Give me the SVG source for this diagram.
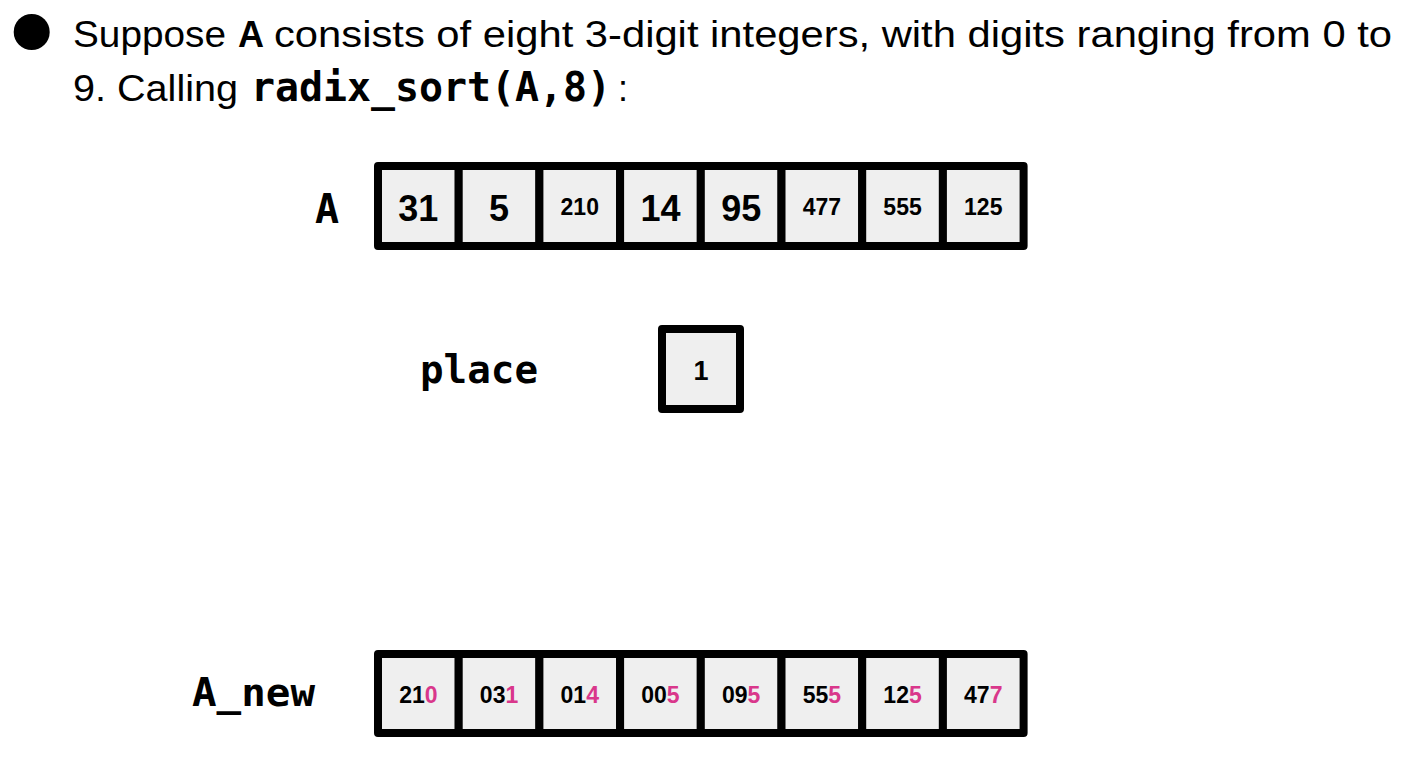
<svg xmlns="http://www.w3.org/2000/svg" width="1426" height="760" viewBox="0 0 1426 760">
<style>
.cell{fill:#efefef;stroke:#000;stroke-width:8;stroke-linejoin:round}
.big{font-family:"Liberation Sans",Arial,sans-serif;font-weight:bold;font-size:36px;text-anchor:middle;fill:#000}
.small{font-family:"Liberation Sans",Arial,sans-serif;font-weight:bold;font-size:23px;text-anchor:middle;fill:#000}
.one{font-family:"Liberation Sans",Arial,sans-serif;font-weight:bold;font-size:27px;text-anchor:middle;fill:#000}
.hl{fill:#d9378b}
.body{font-family:"Liberation Sans",Arial,sans-serif;font-size:36px;fill:#000}
.bodyb{font-family:"Liberation Sans",Arial,sans-serif;font-size:36px;font-weight:bold;fill:#000}
.mono{font-family:"DejaVu Sans Mono","Liberation Mono",monospace;font-weight:bold;fill:#000}
</style>
<rect width="1426" height="760" fill="#fff"/>
<g id="title">
<circle cx="31.7" cy="32" r="18" fill="#000"/>
<text class="body" x="73" y="47" textLength="153" lengthAdjust="spacingAndGlyphs">Suppose</text>
<text class="bodyb" x="238" y="47">A</text>
<text class="body" x="274" y="47" textLength="1118" lengthAdjust="spacingAndGlyphs">consists of eight 3-digit integers, with digits ranging from 0 to</text>
<text class="body" x="73" y="101" textLength="165" lengthAdjust="spacingAndGlyphs">9. Calling</text>
<text class="mono" x="251" y="101" font-size="40" textLength="360" lengthAdjust="spacingAndGlyphs">radix_sort(A,8)</text>
<text class="body" x="618" y="101">:</text>
</g>
<g id="label-A"><text class="mono" x="315" y="223" font-size="40">A</text></g>
<g id="array-A">
<g id="A0"><rect class="cell" x="378" y="166" width="80.7" height="80"/><text class="big" x="418.35" y="221">31</text></g>
<g id="A1"><rect class="cell" x="458.7" y="166" width="80.7" height="80"/><text class="big" x="499.05" y="221">5</text></g>
<g id="A2"><rect class="cell" x="539.4" y="166" width="80.7" height="80"/><text class="small" x="579.75" y="215">210</text></g>
<g id="A3"><rect class="cell" x="620.1" y="166" width="80.7" height="80"/><text class="big" x="660.45" y="221">14</text></g>
<g id="A4"><rect class="cell" x="700.8" y="166" width="80.7" height="80"/><text class="big" x="741.15" y="221">95</text></g>
<g id="A5"><rect class="cell" x="781.5" y="166" width="80.7" height="80"/><text class="small" x="821.85" y="215">477</text></g>
<g id="A6"><rect class="cell" x="862.2" y="166" width="80.7" height="80"/><text class="small" x="902.55" y="215">555</text></g>
<g id="A7"><rect class="cell" x="942.9" y="166" width="80.7" height="80"/><text class="small" x="983.25" y="215">125</text></g>
</g>
<g id="label-place"><text class="mono" x="420" y="383" font-size="39" textLength="118" lengthAdjust="spacingAndGlyphs">place</text></g>
<g id="place">
<rect class="cell" x="662" y="329" width="78" height="80"/>
<text class="one" x="701" y="380">1</text>
</g>
<g id="label-A_new"><text class="mono" x="192" y="706" font-size="39" textLength="123" lengthAdjust="spacingAndGlyphs">A_new</text></g>
<g id="array-A_new">
<g id="N0"><rect class="cell" x="378" y="654" width="80.7" height="79"/><text class="small" x="418.35" y="703">21<tspan class="hl">0</tspan></text></g>
<g id="N1"><rect class="cell" x="458.7" y="654" width="80.7" height="79"/><text class="small" x="499.05" y="703">03<tspan class="hl">1</tspan></text></g>
<g id="N2"><rect class="cell" x="539.4" y="654" width="80.7" height="79"/><text class="small" x="579.75" y="703">01<tspan class="hl">4</tspan></text></g>
<g id="N3"><rect class="cell" x="620.1" y="654" width="80.7" height="79"/><text class="small" x="660.45" y="703">00<tspan class="hl">5</tspan></text></g>
<g id="N4"><rect class="cell" x="700.8" y="654" width="80.7" height="79"/><text class="small" x="741.15" y="703">09<tspan class="hl">5</tspan></text></g>
<g id="N5"><rect class="cell" x="781.5" y="654" width="80.7" height="79"/><text class="small" x="821.85" y="703">55<tspan class="hl">5</tspan></text></g>
<g id="N6"><rect class="cell" x="862.2" y="654" width="80.7" height="79"/><text class="small" x="902.55" y="703">12<tspan class="hl">5</tspan></text></g>
<g id="N7"><rect class="cell" x="942.9" y="654" width="80.7" height="79"/><text class="small" x="983.25" y="703">47<tspan class="hl">7</tspan></text></g>
</g>
<g id="connectors"/>
</svg>
